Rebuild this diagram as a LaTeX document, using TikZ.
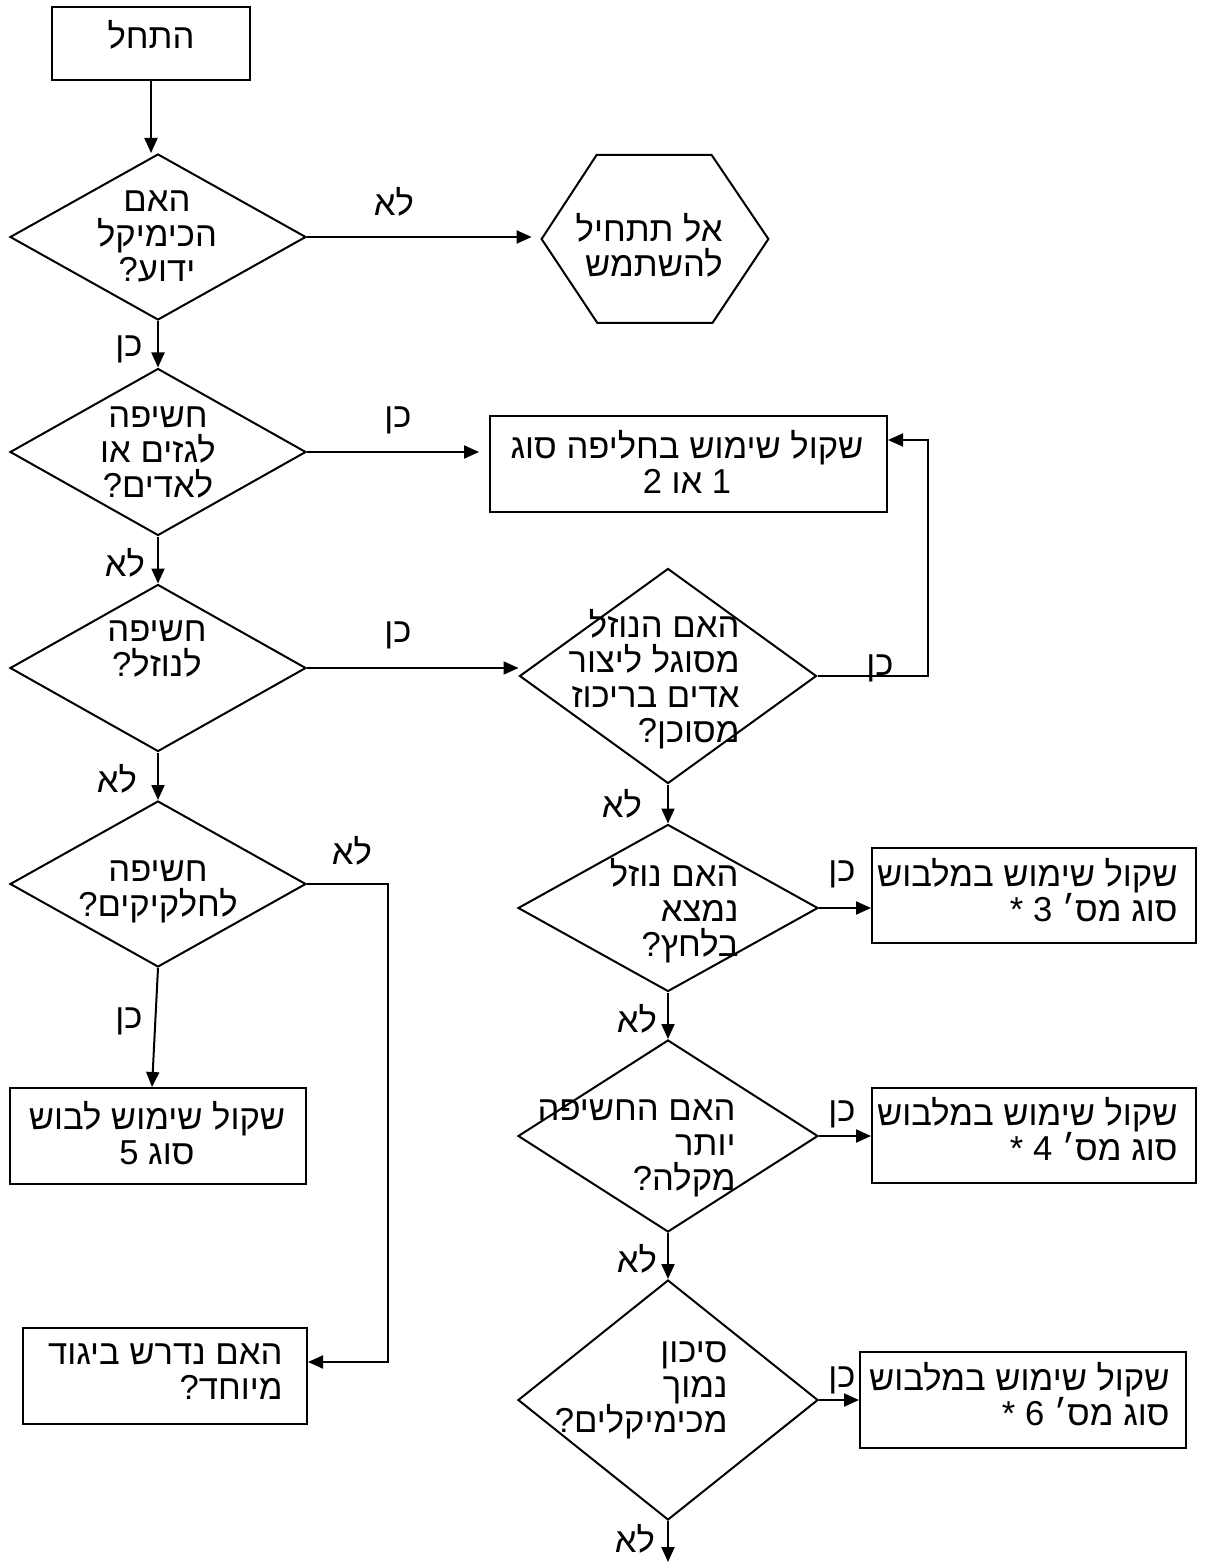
\documentclass[tikz,border=0pt]{standalone}
\usepackage{fontspec}
\usetikzlibrary{shapes.geometric, arrows.meta}
\newfontfamily\hebfont[Script=Hebrew]{Liberation Sans}
\TeXXeTstate=1
\newcommand{\heb}[1]{\beginR#1\endR}

\tikzset{
    box/.style = {draw, rectangle, line width = 1pt, inner sep = 0pt},
    decision/.style = {draw, diamond, line width = 1pt, inner sep = 0pt},
    words/.style = {inner sep = 0pt, font = \hebfont\fontsize{17.3}{17.5}\selectfont},
    link/.style = {-{Triangle[length = 7.5pt, width = 6.5pt]}, line width = 1pt}
}

\begin{document}
\begin{tikzpicture}[x = 0.5pt, y = -0.5pt]
        \useasboundingbox (0, 0) rectangle (1210, 1566);

        % Nodes
        \node [box, minimum width = 99pt, minimum height = 36.5pt] (start) at (151, 43.5) {};
        \node [words] (starttext) at (151, 35) {\heb{התחל}};

        \node [decision, minimum width = 148pt, minimum height = 83pt] (known) at (158, 237) {};
        \node [words, align = center] (knowntext) at (157, 236) {\heb{האם}\\\heb{הכימיקל}\\\heb{ידוע?}};

        \node [minimum width = 113pt, minimum height = 84pt, inner sep = 0pt] (stop) at (655, 239) {};
        \draw [line width = 1pt] (stop.west) -- ++(55, -84) -- ++(115, 0) -- (stop.east) -- ++(-56, 84) -- ++(-115, 0) -- cycle;
        \node [words, align = right, anchor = east] (stoptext) at (723, 245) {\heb{אל תתחיל}\\\heb{להשתמש}};

        \node [decision, minimum width = 148pt, minimum height = 83.5pt] (gas) at (158, 452) {};
        \node [words, align = center] (gastext) at (158, 453) {\heb{חשיפה}\\\heb{לגזים או}\\\heb{לאדים?}};

        \node [box, minimum width = 198.5pt, minimum height = 48pt] (suit) at (688.5, 464) {};
        \node [words, align = center] (suittext) at (687, 462) {\heb{שקול שימוש בחליפה סוג}\\\heb{1 או 2}};

        \node [decision, minimum width = 148pt, minimum height = 83.5pt] (liquid) at (158, 668) {};
        \node [words, align = center] (liquidtext) at (157, 649) {\heb{חשיפה}\\\heb{לנוזל?}};

        \node [decision, minimum width = 148.5pt, minimum height = 107.5pt] (vapour) at (668, 676) {};
        \node [words, align = right, anchor = east] (vapourtext) at (740, 679) {\heb{האם הנוזל}\\\heb{מסוגל ליצור}\\\heb{אדים בריכוז}\\\heb{מסוכן?}};

        \node [decision, minimum width = 148pt, minimum height = 83pt] (particles) at (158, 884) {};
        \node [words, align = center] (particlestext) at (158, 892) {\heb{חשיפה}\\\heb{לחלקיקים?}};

        \node [decision, minimum width = 150pt, minimum height = 83.5pt] (pressure) at (668, 908) {};
        \node [words, align = right, anchor = east] (pressuretext) at (739, 911) {\heb{האם נוזל}\\\heb{נמצא}\\\heb{בלחץ?}};

        \node [box, minimum width = 162pt, minimum height = 47.5pt] (suit3) at (1034, 895.5) {};
        \node [words, align = right, anchor = east] (suit3text) at (1178, 890) {\heb{שקול שימוש במלבוש}\\\heb{סוג מס׳ 3 *}};

        \node [decision, minimum width = 150pt, minimum height = 96pt] (light) at (668, 1136) {};
        \node [words, align = right, anchor = east] (lighttext) at (736, 1148) {\heb{האם החשיפה}\\\heb{יותר}\\\heb{מקלה?}};

        \node [box, minimum width = 162pt, minimum height = 47.5pt] (suit4) at (1034, 1135.5) {};
        \node [words, align = right, anchor = east] (suit4text) at (1178, 1129) {\heb{שקול שימוש במלבוש}\\\heb{סוג מס׳ 4 *}};

        \node [decision, minimum width = 150pt, minimum height = 120pt] (risk) at (668, 1400) {};
        \node [words, align = right, anchor = east] (risktext) at (728, 1390) {\heb{סיכון}\\\heb{נמוך}\\\heb{מכימיקלים?}};

        \node [box, minimum width = 163pt, minimum height = 48pt] (suit6) at (1023, 1400) {};
        \node [words, align = right, anchor = east] (suit6text) at (1170, 1394) {\heb{שקול שימוש במלבוש}\\\heb{סוג מס׳ 6 *}};

        \node [box, minimum width = 148pt, minimum height = 48pt] (suit5) at (158, 1136) {};
        \node [words, align = center] (suit5text) at (157, 1133) {\heb{שקול שימוש לבוש}\\\heb{סוג 5}};

        \node [box, minimum width = 142pt, minimum height = 48pt] (special) at (165, 1376) {};
        \node [words, align = right, anchor = east] (specialtext) at (283, 1372) {\heb{האם נדרש ביגוד}\\\heb{מיוחד?}};

        \coordinate (loop) at (928, 440);
        \coordinate (bend) at (388, 1362);
        \coordinate (end) at (668, 1562);

        % Draw the links
        \draw [link] (start.south) -- (start.south |- known.north);
        \draw [link, shorten > = 5pt] (known.east) -- (known.east -| stop.west);
        \draw [link] (known.south) -- (gas.north);
        \draw [link, shorten > = 5pt] (gas.east) -- (gas.east -| suit.west);
        \draw [link] (gas.south) -- (liquid.north);
        \draw [link] (liquid.east) -- (liquid.east -| vapour.west);
        \draw [link] (vapour.east) -| (loop) -- (loop -| suit.east);
        \draw [link] (vapour.south) -- (pressure.north);
        \draw [link] (pressure.east) -- (pressure.east -| suit3.west);
        \draw [link] (pressure.south) -- (light.north);
        \draw [link] (light.east) -- (light.east -| suit4.west);
        \draw [link] (light.south) -- (risk.north);
        \draw [link] (risk.east) -- (risk.east -| suit6.west);
        \draw [link] (risk.south) -- (end);
        \draw [link] (liquid.south) -- (particles.north);
        \draw [link] (particles.east) -| (bend) -- (bend -| special.east);
        \draw [link] (particles.south) -- ([xshift = -3pt]suit5.north);

        % Answers
        \node [words] (a1) at (394, 202) {\heb{לא}};
        \node [words] (a2) at (129, 349) {\heb{כן}};
        \node [words] (a3) at (398, 420) {\heb{כן}};
        \node [words] (a4) at (125, 563) {\heb{לא}};
        \node [words] (a5) at (398, 635) {\heb{כן}};
        \node [words] (a6) at (880, 668) {\heb{כן}};
        \node [words] (a7) at (622, 804) {\heb{לא}};
        \node [words] (a8) at (117, 779) {\heb{לא}};
        \node [words] (a9) at (352, 851) {\heb{לא}};
        \node [words] (a10) at (129, 1021) {\heb{כן}};
        \node [words] (a11) at (842, 874) {\heb{כן}};
        \node [words] (a12) at (637, 1019) {\heb{לא}};
        \node [words] (a13) at (842, 1114) {\heb{כן}};
        \node [words] (a14) at (637, 1259) {\heb{לא}};
        \node [words] (a15) at (842, 1380) {\heb{כן}};
        \node [words] (a16) at (635, 1539) {\heb{לא}};

    \end{tikzpicture}
\end{document}
